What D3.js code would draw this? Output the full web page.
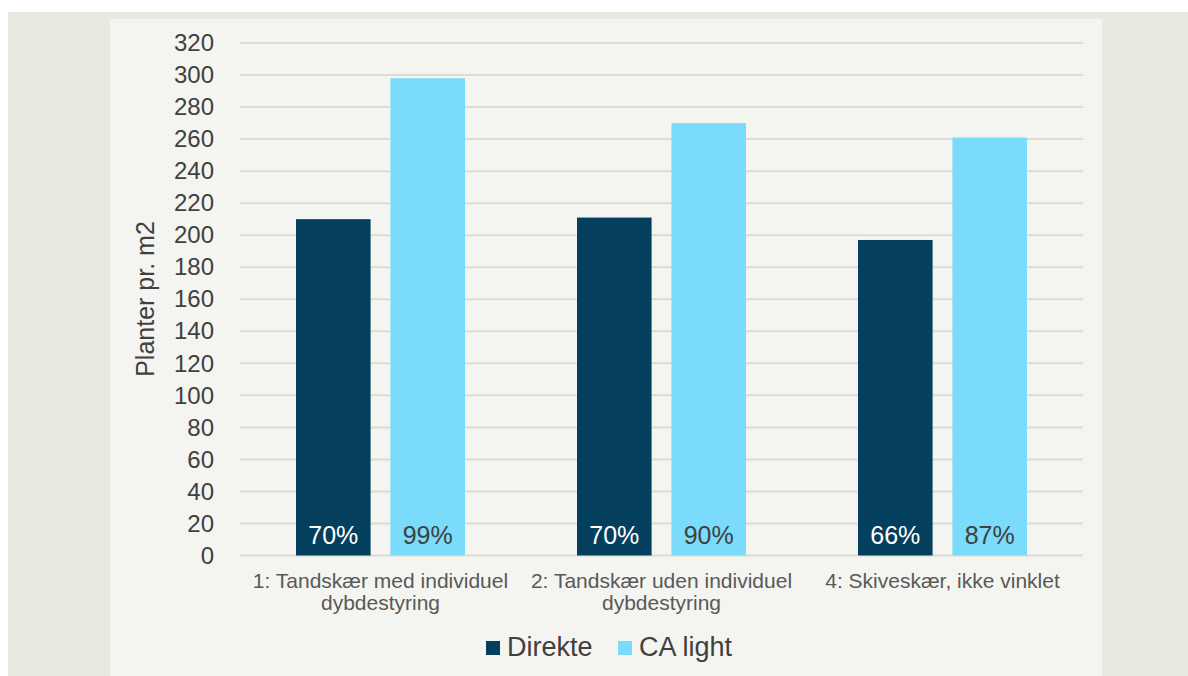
<!DOCTYPE html>
<html>
<head>
<meta charset="utf-8">
<script src="https://cdn.jsdelivr.net/npm/d3@7"></script>
<style>
  body { margin: 0; background: #ffffff; }
  svg { display: block; font-family: "Liberation Sans", Arial, sans-serif; }
</style>
</head>
<body>
<div class="chart"></div>
<script>
// data
const categories = ['1: Tandskær med individuel|dybdestyring', '2: Tandskær uden individuel|dybdestyring', '4: Skiveskær, ikke vinklet'];
const seriesNames = ['Direkte', 'CA light'];
const direkte = [210, 211, 197];
const caLight = [298, 270, 261];
const direktePct = ['70%', '70%', '66%'];
const caLightPct = ['99%', '90%', '87%'];
const yTicks = d3.range(0, 321, 20);

const colors = {Direkte: '#053f5e', 'CA light': '#7adcfa'};

const W = 1188, H = 676;
const margin = {top: 43, right: 105, bottom: 120.5, left: 240};
const innerW = W - margin.left - margin.right;
const innerH = H - margin.top - margin.bottom;

const svg = d3.select('.chart').append('svg').attr('width', W).attr('height', H);

// backgrounds
svg.append('rect').attr('x', 8).attr('y', 12).attr('width', W - 8).attr('height', H - 12).attr('fill', '#e9e8e1');
svg.append('rect').attr('x', 110).attr('y', 19).attr('width', 992).attr('height', H - 19).attr('fill', '#f4f4f0');

const g = svg.append('g').attr('transform', `translate(${margin.left},${margin.top})`);

const y = d3.scaleLinear().domain([0, 320]).range([innerH, 0]);
const x0 = d3.scaleBand().domain(categories).range([0, innerW]);
const x1 = d3.scaleBand().domain(seriesNames).range([0, 169]).paddingInner(0.21);

// grid
g.append('g').selectAll('line').data(yTicks).join('line')
  .attr('x1', 0).attr('x2', innerW)
  .attr('y1', d => y(d)).attr('y2', d => y(d))
  .attr('stroke', '#dcdcd5').attr('stroke-width', 2);

// y axis
const yAxis = g.append('g').call(d3.axisLeft(y).tickValues(yTicks).tickSize(0).tickPadding(26));
yAxis.select('.domain').remove();
yAxis.selectAll('text').style('font-size', '24px').style('fill', '#404040')
  .style('font-family', '"Liberation Sans", Arial, sans-serif');

// y title
svg.append('text')
  .attr('transform', 'translate(154,299) rotate(-90)')
  .attr('text-anchor', 'middle')
  .style('font-size', '25px').style('fill', '#404040')
  .text('Planter pr. m2');

// bars
const rows = categories.map((c, i) => ({
  cat: c,
  vals: [
    {s: 'Direkte', v: direkte[i], pct: direktePct[i]},
    {s: 'CA light', v: caLight[i], pct: caLightPct[i]}
  ]
}));

const grp = g.selectAll('.grp').data(rows).join('g')
  .attr('class', 'grp')
  .attr('transform', d => `translate(${x0(d.cat) + (x0.bandwidth() - 169) / 2},0)`);

grp.selectAll('rect').data(d => d.vals).join('rect')
  .attr('x', d => x1(d.s)).attr('width', x1.bandwidth())
  .attr('y', d => y(d.v)).attr('height', d => y(0) - y(d.v))
  .attr('fill', d => colors[d.s]);

grp.selectAll('text.pct').data(d => d.vals).join('text')
  .attr('class', 'pct')
  .attr('x', d => x1(d.s) + x1.bandwidth() / 2)
  .attr('y', y(0) - 12)
  .attr('text-anchor', 'middle')
  .style('font-size', '25px')
  .style('fill', d => d.s === 'Direkte' ? '#ffffff' : '#404040')
  .text(d => d.pct);

// x labels
const xl = g.append('g').selectAll('text').data(categories).join('text')
  .attr('x', d => x0(d) + x0.bandwidth() / 2)
  .attr('y', innerH + 32.5)
  .attr('text-anchor', 'middle')
  .style('font-size', '21px').style('fill', '#595959');
xl.selectAll('tspan').data(d => d.split('|')).join('tspan')
  .attr('x', function() { return d3.select(this.parentNode).attr('x'); })
  .attr('dy', (d, i) => i === 0 ? 0 : 22)
  .text(d => d);

// legend
const legend = svg.append('g').selectAll('g').data(seriesNames).join('g')
  .attr('transform', (d, i) => `translate(${i === 0 ? 486 : 618},641)`);
legend.append('rect').attr('width', 14).attr('height', 14).attr('fill', d => colors[d]);
legend.append('text').attr('x', 21).attr('y', 15)
  .style('font-size', '27px').style('fill', '#404040').text(d => d);
</script>
</body>
</html>
